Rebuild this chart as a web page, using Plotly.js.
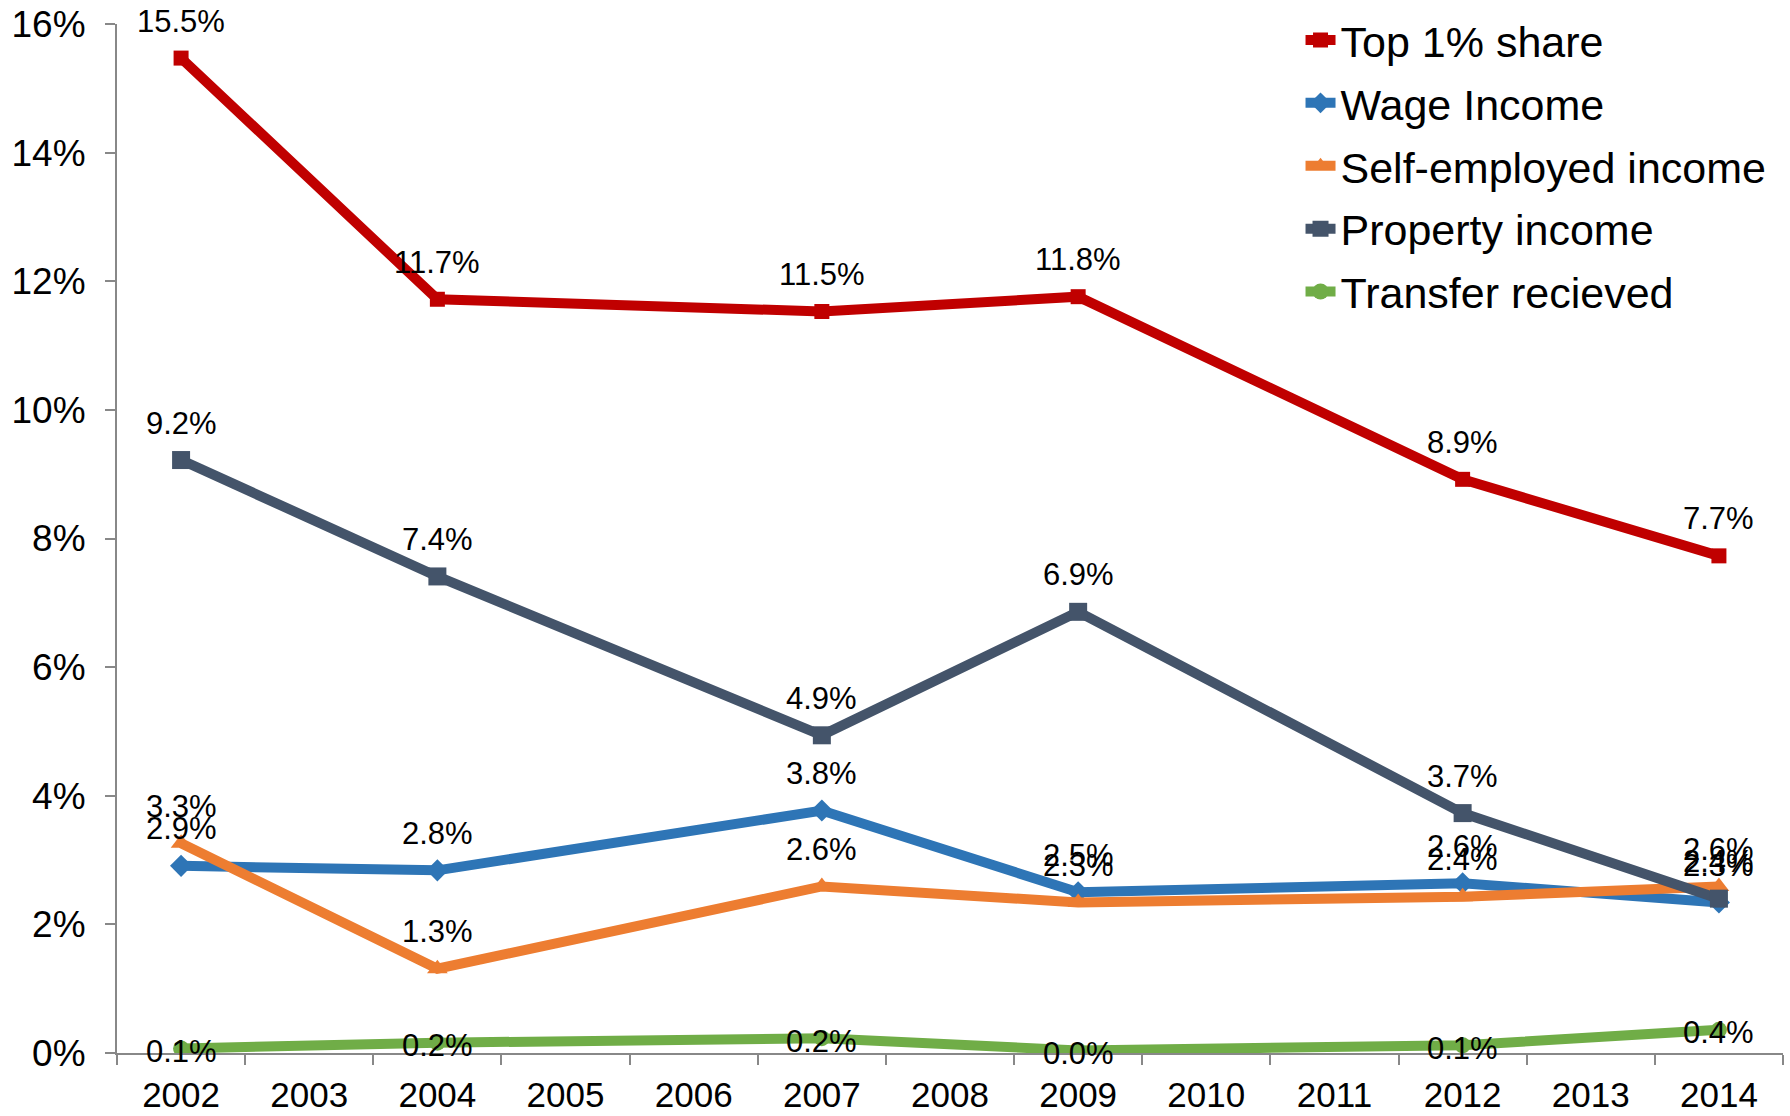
<!DOCTYPE html>
<html>
<head>
<meta charset="utf-8">
<script src="https://cdn.plot.ly/plotly-3.0.1.min.js"></script>
<style>html,body{margin:0;padding:0;background:#fff;}#chart{width:1790px;height:1116px;}#err{position:absolute;left:300px;top:500px;color:#f0f;font-size:20px;}</style>
</head>
<body>
<div id="chart"></div>
<div id="err"></div>
<script>
var allYears = ['2002','2003','2004','2005','2006','2007','2008','2009','2010','2011','2012','2013','2014'];
var dataYears = ['2002','2004','2007','2009','2012','2014'];
var top1 = [15.47, 11.72, 11.53, 11.76, 8.92, 7.73];
var wage = [2.91, 2.84, 3.77, 2.50, 2.64, 2.34];
var selfEmp = [3.26, 1.31, 2.59, 2.34, 2.43, 2.59];
var property = [9.22, 7.41, 4.94, 6.86, 3.73, 2.40];
var transfer = [0.07, 0.16, 0.23, 0.04, 0.12, 0.36];
var seriesNames = ['Top 1% share','Wage Income','Self-employed income','Property income','Transfer recieved'];

var FONT = 'Liberation Sans, Arial, sans-serif';
var specs = [
  {name: seriesNames[0], y: top1, color: '#C00000', symbol: 'square', size: 15, shift: 37},
  {name: seriesNames[1], y: wage, color: '#2E75B6', symbol: 'diamond', size: 17, shift: 37},
  {name: seriesNames[2], y: selfEmp, color: '#ED7D31', symbol: 'triangle-up', size: 18, shift: 37},
  {name: seriesNames[3], y: property, color: '#44546A', symbol: 'square', size: 18, shift: 37},
  {name: seriesNames[4], y: transfer, color: '#70AD47', symbol: 'circle', size: 16, shift: -3}
];

var traces = specs.map(function(s, i){
  return {
    type: 'scatter', mode: 'lines+markers', name: s.name,
    x: dataYears, y: s.y, legendgroup: 'g' + i,
    line: {color: s.color, width: 10},
    marker: {color: s.color, symbol: s.symbol, size: s.size},
    hoverinfo: 'skip'
  };
});

var annotations = [];
specs.forEach(function(s){
  s.y.forEach(function(v, j){
    annotations.push({
      x: allYears.indexOf(dataYears[j]), y: v, xref: 'x', yref: 'y',
      text: v.toFixed(1) + '%', showarrow: false,
      yshift: s.shift, font: {family: FONT, size: 31, color: '#000000'}
    });
  });
});

var layout = {
  width: 1790, height: 1116,
  margin: {l: 117, r: 7, t: 24, b: 63, autoexpand: false},
  paper_bgcolor: '#fff', plot_bgcolor: '#fff',
  font: {family: FONT, color: '#000'},
  showlegend: true,
  legend: {x: 0.7104, y: 1.018, xanchor: 'left', yanchor: 'top',
    font: {family: FONT, size: 43, color: '#000'},
    bgcolor: 'rgba(0,0,0,0)', tracegroupgap: 4, traceorder: 'grouped'},
  xaxis: {
    type: 'category', categoryorder: 'array', categoryarray: allYears,
    tickvals: allYears, range: [-0.5, 12.5],
    showgrid: false, zeroline: false, showline: true, linecolor: '#888', linewidth: 2,
    ticks: 'outside', tickson: 'boundaries', ticklen: 10, tickcolor: '#888', tickwidth: 2,
    tickfont: {family: FONT, size: 35, color: '#000'}, ticklabelstandoff: 10
  },
  yaxis: {
    range: [0, 16], dtick: 2, tick0: 0, ticksuffix: '%',
    showgrid: false, zeroline: false, showline: true, linecolor: '#888', linewidth: 2,
    ticks: 'outside', ticklen: 10, tickcolor: '#888', tickwidth: 2,
    tickfont: {family: FONT, size: 37, color: '#000'}, ticklabelstandoff: 12
  }
};

Plotly.newPlot('chart', traces, layout, {displayModeBar: false}).then(function(){
  return Plotly.relayout('chart', {annotations: annotations});
}).catch(function(e){
  document.getElementById('err').textContent = 'ERR: ' + e;
});
</script>
</body>
</html>
